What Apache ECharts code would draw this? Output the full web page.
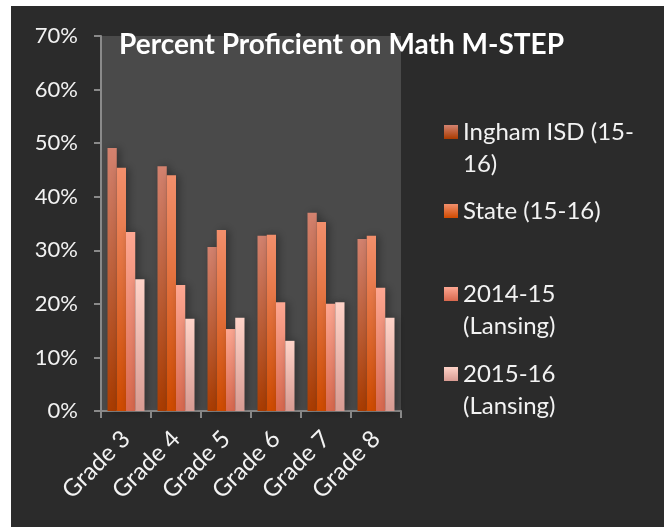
<!DOCTYPE html>
<html>
<head>
<meta charset="utf-8">
<script src="https://cdn.jsdelivr.net/npm/echarts@6/dist/echarts.min.js"></script>
<style>
html,body{margin:0;padding:0;background:#ffffff;width:664px;height:527px;overflow:hidden;}
#c{position:absolute;left:11px;top:6px;width:653px;height:521px;}
</style>
</head>
<body>
<div id="c"></div>
<script>
var categories = ['Grade 3', 'Grade 4', 'Grade 5', 'Grade 6', 'Grade 7', 'Grade 8'];
var seriesNames = ['Ingham ISD (15-16)', 'State (15-16)', '2014-15 (Lansing)', '2015-16 (Lansing)'];
var legendLabels = ['Ingham ISD (15-\n16)', 'State (15-16)', '2014-15\n(Lansing)', '2015-16\n(Lansing)'];
var inghamISD = [49.1, 45.7, 30.6, 32.7, 37.0, 32.1];
var state = [45.4, 44.0, 33.8, 32.9, 35.3, 32.7];
var lansing1415 = [33.4, 23.5, 15.3, 20.3, 20.0, 23.0];
var lansing1516 = [24.6, 17.2, 17.4, 13.1, 20.3, 17.4];
var yTicks = [0, 10, 20, 30, 40, 50, 60, 70];

var allData = [inghamISD, state, lansing1415, lansing1516];
var gradients = [
  ['#d3826f', '#a93b00'],
  ['#f28f6c', '#cf4a00'],
  ['#fda792', '#d8684e'],
  ['#fed3c8', '#d89b92']
];
var legendTops = [78, 189, 240, 320];

function grad(c) {
  return new echarts.graphic.LinearGradient(0, 0, 0, 1, [
    {offset: 0, color: c[0]}, {offset: 1, color: c[1]}
  ]);
}

var chart = echarts.init(document.getElementById('c'), null, {renderer: 'canvas'});
var series = seriesNames.map(function (n, i) {
  return {
    name: n,
    type: 'bar',
    data: allData[i],
    barGap: '0%',
    barCategoryGap: '26%',
    itemStyle: {
      color: grad(gradients[i]),
      shadowBlur: 8,
      shadowColor: 'rgba(0,0,0,0.35)',
      shadowOffsetX: 3
    }
  };
});

var legends = seriesNames.map(function (n, i) {
  var lbl = legendLabels[i];
  return {
    data: [n],
    left: 433,
    top: legendTops[i],
    padding: 0,
    itemWidth: 14,
    itemHeight: 14,
    itemGap: 6,
    icon: 'rect',
    selectedMode: false,
    formatter: function () { return lbl.indexOf('\n') >= 0 ? '\n' + lbl : lbl; },
    textStyle: {
      color: '#f2f2f2',
      fontFamily: 'Lato',
      fontSize: 24,
      lineHeight: 32
    }
  };
});

chart.setOption({
  backgroundColor: '#2b2b2b',
  animation: false,
  title: {
    text: 'Percent Proficient on Math M-STEP',
    left: 103,
    top: 20,
    textStyle: {color: '#ffffff', fontFamily: 'Lato', fontWeight: 'bold', fontSize: 28}
  },
  legend: legends,
  grid: {
    left: 90, right: 263, top: 30, bottom: 116,
    show: true, backgroundColor: '#4a4a4a', borderWidth: 0
  },
  xAxis: {
    type: 'category',
    data: categories,
    axisLine: {lineStyle: {color: '#8a8a8a', width: 2}},
    axisTick: {show: true, length: 7, lineStyle: {color: '#8a8a8a', width: 2}},
    axisLabel: {
      rotate: 45, margin: 24, color: '#f2f2f2',
      fontFamily: 'Lato', fontSize: 24
    }
  },
  yAxis: {
    type: 'value',
    min: yTicks[0], max: yTicks[yTicks.length - 1], interval: 10,
    axisLine: {show: true, lineStyle: {color: '#8a8a8a', width: 2}},
    axisTick: {show: true, length: 7, lineStyle: {color: '#8a8a8a', width: 2}},
    splitLine: {show: false},
    axisLabel: {
      margin: 23, color: '#f2f2f2', fontFamily: 'Lato', fontSize: 22,
      formatter: function (v) { return v + '%'; }
    }
  },
  series: series
});
</script>
</body>
</html>
